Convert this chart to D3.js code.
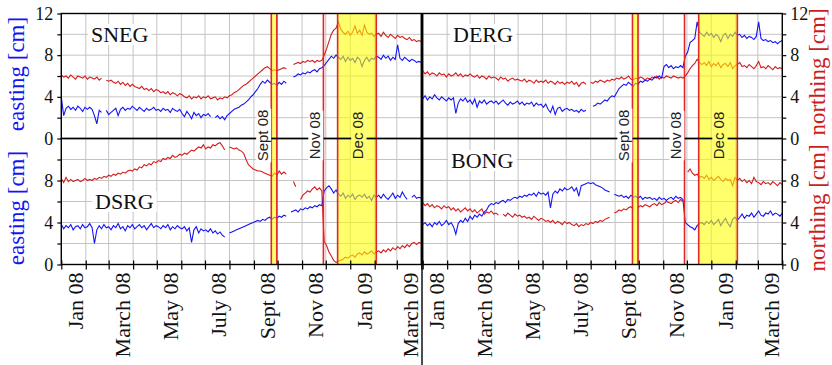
<!DOCTYPE html>
<html>
<head>
<meta charset="utf-8">
<script src="https://cdn.jsdelivr.net/npm/d3@7"></script>
<style>
  body { margin: 0; background: #fff; }
</style>
</head>
<body>
<div id="chart"></div>
<script>
// daily GPS solutions, sampled every 3 days from 1 Jan 2008
const startDate = new Date(2008, 0, 1);
const stepDays = 3;

const N_SNEG = [6.1, 5.9, 6.0, 5.8, 6.1, 5.9, 5.7, 6.0, 5.9, 5.8, 6.0, 5.7, 5.9,
  5.8, 5.7, 5.9, 5.6, 5.8, null, 5.6, 5.5,
  5.6, 5.4, 5.3, 5.5, 5.2, 5.4, 5.1, 5.3, 5.0, 5.2,
  5.0, 4.9, 4.8, 5.0, 4.7, 4.8, 4.6, 4.8, 4.5, 4.7,
  4.6, 4.4, 4.5, 4.3, 4.5, 4.2, 4.4, 4.3, 4.1, 4.3,
  4.2, 4.0, 3.9, 4.1, 3.8, 4.0, 3.9, 4.1, 3.8, 4.0,
  3.9, 4.1, 3.8, 3.9, 4.0, 3.7, 3.9, 3.8, 4.0, 3.9,
  4.1, 4.2, 4.4, 4.5, 4.7, 4.9, 5.1, 5.2, 5.4, 5.6, 5.8, 6.0, 6.2,
  6.4, 6.6, 6.8, 6.9, 6.7, 6.5, 6.6, 6.5, 6.6, 6.7, 6.8, 6.7,
  null, null, 7.1, 7.2, 7.3, 7.2, 7.4, 7.3, 7.5, 7.4, 7.5, 7.3, 7.5, 7.4, 7.5,
  8.0, 8.6, 9.3, 10.0, 10.4, 10.6, 11.2,
  10.5, 10.2, 10.0, 10.3, 9.9, 10.2, 10.8, 10.1, 10.4, 9.9, 10.9, 10.2, 10.0, 10.1, 9.8, 10.0,
  10.1, 9.8, 10.2, 9.9, 9.7, 10.0, 9.8, 9.6, 9.9, 9.7, 9.8, 9.6, 9.5, 9.7, 9.4, 9.5, 9.3, 9.4, 9.3];

const E_SNEG = [4.0, 2.2, 2.9, 3.1, 2.8, 3.0, 2.7, 3.1, 2.9, 2.6, 3.0, 2.8, 3.0,
  2.8, 2.2, 1.4, 2.7, 2.5, null, 2.7, 2.3,
  2.5, 2.7, 2.9, 2.2, 2.8, 3.0, 2.7, 2.9, 2.8, 3.1,
  2.9, 2.7, 3.0, 2.8, 2.6, 2.9, 2.7, 2.8, 3.0, 2.7,
  2.8, 2.6, 2.9, 2.7, 2.8, 2.5, 2.9, 2.7, 2.6, 2.8,
  2.4, 2.1, 2.6, 2.3, 1.9, 2.5, 2.2, 2.4, 2.0, 2.3,
  2.2, 2.4, 2.1, null, 2.0, 2.2, 1.9, 2.1, 1.8, 2.2,
  2.4, 2.6, 2.8, 2.9, 3.0, 3.2, 3.3, 3.5, 3.7, 4.0, 4.2, 4.5, 4.8,
  5.2, 5.5, 5.3, 5.6, 5.4, 5.2, 5.3, 5.1, 5.4, 5.2, 5.5, 5.3,
  null, null, 5.9, 6.0, 6.2, 6.1, 6.3, 6.2, 6.4, 6.3, 6.5, 6.6, 6.4, 6.7, 6.8,
  7.0, 7.3, 7.6, 7.9, 7.7, 8.0, 7.8,
  7.6, 7.9, 7.4, 7.8, 7.5, 7.7, 7.3, 7.8, 7.6, 6.9, 7.5, 7.8, 7.4, 7.7, 7.6, 7.9,
  7.8, 7.6, 8.0, 7.7, 7.9, 7.5, 7.8, 7.6, 9.0, 7.7, 7.5, 7.8, 7.6, 7.4, 7.6, 7.5, 7.3, 7.4, 7.3];

const N_DERG = [6.5, 6.2, 6.4, 6.1, 6.3, 6.2, 6.0, 6.3, 6.1, 6.2, 5.9, 6.2, 6.0,
  6.1, 6.3, 6.0, 6.2, 5.9, 6.1, 6.0, 6.2,
  6.0, 5.9, 6.1, 5.8, 6.0, 5.9, 5.7, 6.0, 5.8, 5.9,
  5.8, 5.6, 5.9, 5.7, 5.8, 5.5, 5.7, 5.8, 5.6, 5.7,
  5.6, 5.5, 5.7, 5.4, 5.6, 5.5, 5.3, 5.6, 5.4, 5.5,
  5.4, 5.6, 5.3, 5.5, 5.4, 5.2, 5.5, 5.3, 5.4, 5.2,
  5.4, 5.3, 5.5, 5.2, 5.4, 5.0, 5.3, 5.4, 5.2, null,
  5.4, 5.3, 5.5, 5.4, 5.6, 5.5, 5.4, 5.6, 5.5, 5.7, 5.6, 5.8, 5.7,
  5.9, 5.7, 5.8, 6.0, 5.7, 5.6, 5.8, 5.7, 5.9, 5.8, 5.6, 5.8,
  5.7, 5.9, 5.8, 6.0, 5.7, 5.9, 5.8, 6.0, 5.9, 5.8, 6.0, 5.9, 5.8, 5.9, 5.8,
  6.0, 6.3, 6.7, 7.0, 7.2, 7.6, 7.3,
  7.1, 7.3, 7.0, 7.4, 6.9, 7.2, 7.0, 7.3, 6.8, 7.1, 7.2, 6.9, 7.3, 6.7, 7.0, 7.1,
  7.3, 6.9, 7.0, 6.8, 7.1, 6.9, 6.7, 7.0, 7.4, 6.8, 6.9, 6.7, 7.0, 6.8, 6.6, 6.9, 6.7, 6.8, 6.7];

const E_DERG = [3.8, 4.1, 3.7, 4.0, 3.8, 4.2, 3.9, 3.7, 4.0, 3.8, 3.6, 3.9, 3.7,
  3.9, 2.4, 3.4, 3.8, 3.6, 3.9, 3.5, 3.7,
  3.3, 3.8, 3.0, 3.6, 3.4, 3.7, 3.3, 3.5, 3.6, 3.4,
  3.6, 3.3, 3.5, 3.7, 3.4, 3.2, 3.5, 3.3, 3.4, 3.6,
  3.3, 3.5, 3.2, 3.4, 3.3, 3.5, 3.1, 3.4, 3.2, 3.3,
  3.0, 3.3, 2.8, 2.5, 3.1, 2.3, 2.9, 3.0, 2.6, 2.8,
  2.9, 2.7, 2.8, 2.6, 2.7, 2.5, 2.8, 2.6, 2.7, null,
  null, 3.1, 3.2, 3.4, 3.3, 3.5, 3.7, 3.6, 3.9, 4.1, 4.0, 4.4, 4.8,
  5.0, 5.2, 5.1, 5.4, 5.2, 5.0, 5.3, 5.2, 5.5, 5.4, 5.6, 5.5,
  5.7, 5.6, 5.9, 5.8, 6.0, 5.8, 6.9, 7.1, 6.8, 7.0, 6.7, 6.9, 6.8, 7.0, 6.8,
  7.9, 8.3, 9.2, 9.4, 9.6, 11.2, 10.2,
  10.0, 9.8, 10.2, 9.9, 10.1, 9.7, 10.0, 9.8, 9.3, 9.9, 10.1, 9.6, 10.0, 9.8, 10.2, 9.9,
  10.0, 9.7, 9.9, 9.6, 9.8, 9.7, 9.5, 9.8, 11.2, 9.6, 9.4, 9.5, 9.3, 9.4, 9.2, 9.3, 9.1, 9.3, 9.4];

const N_DSRG = [8.2, 7.8, 8.3, 7.9, 8.1, 7.9, 8.0, 8.1, 7.9, 8.0, 8.2, 8.0, 8.1,
  8.0, 8.2, 8.1, 8.3, 8.2, 8.4, 8.3, 8.5,
  8.4, 8.6, 8.5, 8.7, 8.6, 8.8, 8.7, 8.9, 9.0, 8.9,
  9.1, 9.0, 9.3, 9.2, 9.5, 9.4, 9.6, 9.5, 9.8, 9.7,
  9.9, 9.8, 10.1, 10.0, 10.2, 10.1, 10.4, 10.2, 10.3, 10.5,
  10.4, 10.6, 10.5, 10.7, 10.9, 10.8, 11.0, 11.2, 11.1, 11.4,
  11.0, 11.2, 11.1, 11.4, 11.3, 11.5, 11.6, 11.3, 10.9, null,
  11.2, 11.1, 11.0, 11.1, 10.9, 10.8, 10.6, 10.0, 9.5, 9.3, 9.1, 9.0, 8.9,
  8.9, 8.8, 8.7, 8.6, 8.5, 8.4, 8.7, 8.5, 8.9, 8.6, 8.8, 8.6,
  null, null, 7.9, 7.4, null, 6.2, 6.6, 6.8, 7.0, 6.9, 7.2, 7.4, 7.1, 7.3, 7.0,
  2.2, 1.8, 1.2, 0.8, 0.4, 0.2, 0.3,
  0.4, 0.5, 0.7, 0.6, 0.8, 0.9, 0.7, 1.0, 1.1, 0.9, 1.2, 1.0, 1.1, 1.3, 1.0, 1.2,
  1.3, 1.1, 1.4, 1.2, 1.5, 1.3, 1.6, 1.4, 1.7, 1.5, 1.8, 1.6, 1.9, 1.7, 2.0, 2.1, 1.9, 2.1, 2.0];

const E_DSRG = [3.8, 3.4, 3.7, 3.5, 3.8, 3.3, 3.6, 3.7, 3.4, 3.8, 3.5, 3.6, 3.9,
  3.5, 2.0, 3.3, 3.7, 3.4, 3.8, 3.5, 3.6,
  3.3, 3.7, 3.5, 3.9, 3.4, 3.6, 3.2, 3.7, 3.5, 3.8,
  3.4, 3.6, 3.8, 3.5, 3.7, 3.3, 3.6, 3.9, 3.5, 3.7,
  3.6, 3.4, 3.7, 3.5, 3.8, 3.3, 3.6, 3.4, 3.7, 3.5,
  3.4, 3.6, 3.2, 3.5, 2.1, 3.3, 3.6, 3.0, 3.4, 3.2,
  3.3, 3.1, 3.4, 3.0, 3.2, 2.9, 3.1, 2.8, 2.6, null,
  3.0, 3.1, 3.2, 3.3, 3.4, 3.5, 3.6, 3.7, 3.8, 3.9, 4.0, 4.1, 4.2,
  4.1, 4.3, 4.2, 4.4, 4.5, 4.3, 4.5, 4.4, 4.6, 4.5, 4.7, 4.6,
  null, 5.0, 5.1, 5.2, 5.0, 5.3, 5.2, 5.4, 5.3, 5.5, 5.4, 5.6, 5.5, 5.7, 5.6,
  7.0, 7.3, 7.5, 7.2, 6.8, 7.1, 6.7,
  6.5, 6.8, 6.3, 6.6, 6.4, 6.7, 6.2, 6.5, 6.6, 6.4, 6.7, 6.3, 6.5, 6.1, 6.6, 6.4,
  6.6, 6.3, 6.7, 6.4, 6.2, 6.5, 6.8, 6.3, 6.6, 6.4, 6.9, 6.5, 6.2, null, 6.4, 6.6, 6.3, 6.4, 6.3];

const N_BONG = [5.9, 5.6, 5.8, 5.5, 5.7, 5.4, 5.6, 5.5, 5.3, 5.6, 5.4, 5.5, 5.2,
  5.4, 5.1, 5.3, 5.0, 5.2, 5.4, 5.1, 5.3,
  5.0, 5.2, 4.9, 5.1, 5.3, 4.8, 5.0, 4.9, 5.1, 4.8,
  4.9, 4.7, null, 4.8, 4.6, 4.9, 4.7, 4.5, 4.8, 4.6,
  4.7, 4.5, 4.6, 4.4, 4.5, 4.3, 4.6, 4.4, 4.2, 4.4,
  4.3, 4.1, 4.2, 4.0, 4.2, 3.9, 4.1, 4.0, 3.8, 4.1,
  3.9, 4.0, 3.8, 3.7, 3.9, 3.6, 3.8, 3.7, 3.9, 3.8,
  4.0, 3.9, 4.1, 4.0, 4.2, 4.1, 4.3, 4.4, 4.5, null, 4.9, 5.0, 5.2,
  5.1, 5.3, 5.2, 5.4, 5.5, 5.3, null, 5.4, 5.6, 5.5, 5.7, 5.6,
  5.5, 5.7, 5.8, 5.6, 5.9, 5.7, 5.8, 6.0, 5.9, 5.8, 6.0, 6.1, 5.9, 6.2, 6.0,
  null, 8.8, 9.1, 8.7, 8.5, 8.6, 8.3,
  8.4, 8.2, 8.5, 8.1, 8.3, 8.0, 8.2, 8.4, 8.1, 7.9, 8.2, 8.0, 8.1, 7.5, 8.3, 8.0,
  8.2, 7.9, 8.1, 7.8, 8.0, 7.7, 8.3, 7.9, 7.8, 7.6, 7.9, 7.7, 7.8, 7.6, 7.9, 7.7, 7.5, 7.8, 7.6];

const E_BONG = [3.8, 4.0, 3.7, 3.9, 3.6, 4.0, 3.8, 4.1, 3.7, 3.9, 4.2, 3.8, 4.0,
  3.6, 2.9, 3.9, 4.2, 4.0, 4.4, 4.1, 4.6,
  4.3, 4.7, 4.5, 4.8, 4.6, 5.0, 5.2, 5.6, 5.8, 5.7,
  5.9, 5.8, 6.0, 6.1, 5.9, 6.2, 6.1, 6.3, 6.4, 6.3,
  6.5, 6.4, 6.6, 6.5, 6.7, 6.6, 6.8, 6.5, 6.9, 6.7,
  6.8, 6.6, 6.9, 5.4, 6.7, 7.0, 6.8, 7.2, 7.0, 7.3,
  7.1, 7.2, 7.4, 7.0, 7.3, 6.5, 7.5, 7.6, 7.7, 7.8,
  7.7, 7.8, 7.6, 7.5, 7.4, 7.3, 7.1, 7.0, 6.9, null, 6.7, 6.6, 6.5,
  6.6, 6.4, 6.5, 6.3, 6.6, 6.4, 6.5, 6.3, 6.5, 6.2, 6.4, 6.3,
  6.4, 6.2, 6.3, 6.1, 6.4, 6.2, 6.3, 6.1, 6.3, 6.4, 6.2, 6.5, 6.3, 6.4, 6.2,
  4.0, 3.8, 3.6, 3.5, 3.3, 3.7, 3.9,
  4.0, 3.8, 4.1, 3.9, 4.2, 3.8, 4.0, 4.3, 3.7, 4.1, 4.4, 3.9, 3.6, 4.3, 4.5, 4.2,
  4.5, 4.8, 4.4, 4.7, 4.6, 4.9, 4.5, 4.8, 5.1, 4.7, 4.6, 4.9, 4.8, 5.1, 4.7, 4.9, 4.8, 4.6, 4.9];

const monthLabels = ["Jan 08", "March 08", "May 08", "July 08", "Sept 08", "Nov 08", "Jan 09", "March 09"];
const yLabelsTop = [0, 4, 8, 12];
const yLabelsBottom = [0, 4, 8];

// events: Sept 08 & Dec 08 periods, Nov 08 single date
const events = [
  { label: "Sept 08", from: new Date(2008, 8, 23), to: new Date(2008, 8, 30) },
  { label: "Nov 08", from: new Date(2008, 10, 28), to: null },
  { label: "Dec 08", from: new Date(2008, 11, 16), to: new Date(2009, 1, 3) }
];

const W = 832, H = 365;
const blue = "#1414f5", red = "#d41c1c";
const serif = "'Liberation Serif', 'DejaVu Serif', serif";

const svg = d3.select("#chart").append("svg")
  .attr("width", W).attr("height", H)
  .style("background", "#fff");

const cols = [[61.3, 421.3], [422.7, 782.3]];
const rows = [[138.5, 13.5], [264.5, 138.5]];

const panels = [
  { name: "SNEG", col: 0, row: 0, east: E_SNEG, north: N_SNEG, nx: 91, ny: 42 },
  { name: "DERG", col: 1, row: 0, east: E_DERG, north: N_DERG, nx: 453, ny: 42 },
  { name: "DSRG", col: 0, row: 1, east: E_DSRG, north: N_DSRG, nx: 95, ny: 209 },
  { name: "BONG", col: 1, row: 1, east: E_BONG, north: N_BONG, nx: 451, ny: 168 }
];

const domainX = [startDate, new Date(2009, 3, 1)];
const xScales = cols.map(r => d3.scaleTime().domain(domainX).range(r));
const yScales = rows.map(r => d3.scaleLinear().domain([0, 12]).range(r));

const toSeries = arr => arr.map((v, i) => ({ date: d3.timeDay.offset(startDate, i * stepDays), v: v }));

const grid = svg.append("g");
const dataLayer = svg.append("g");
const bandLayer = svg.append("g");
const frameLayer = svg.append("g");
const labelLayer = svg.append("g");

panels.forEach((p, k) => {
  const x = xScales[p.col];
  const y = yScales[p.row];
  const [x0, x1] = x.range();
  const [yb, yt] = y.range();

  // grid
  grid.selectAll(null)
    .data(x.ticks(d3.timeMonth.every(1)))
    .enter().append("line")
    .attr("x1", d => x(d)).attr("x2", d => x(d))
    .attr("y1", yt).attr("y2", yb)
    .attr("stroke", "#c4c4c4").attr("stroke-width", 1);
  grid.selectAll(null)
    .data(d3.range(2, 12, 2))
    .enter().append("line")
    .attr("x1", x0).attr("x2", x1)
    .attr("y1", d => y(d)).attr("y2", d => y(d))
    .attr("stroke", "#c4c4c4").attr("stroke-width", 1);

  // series
  svg.append("clipPath").attr("id", "clip" + k)
    .append("rect").attr("x", x0).attr("y", yt).attr("width", x1 - x0).attr("height", yb - yt);

  const line = d3.line()
    .defined(d => d.v != null)
    .x(d => x(d.date))
    .y(d => y(d.v));

  const g = dataLayer.append("g").attr("clip-path", `url(#clip${k})`);
  g.append("path").datum(toSeries(p.north))
    .attr("fill", "none").attr("stroke", red).attr("stroke-width", 1.1)
    .attr("d", line);
  g.append("path").datum(toSeries(p.east))
    .attr("fill", "none").attr("stroke", blue).attr("stroke-width", 1.1)
    .attr("d", line);

  // event bands and lines
  events.forEach(ev => {
    if (ev.to) {
      bandLayer.append("rect")
        .attr("x", x(ev.from)).attr("y", yt)
        .attr("width", x(ev.to) - x(ev.from)).attr("height", yb - yt)
        .attr("fill", "#ffff00").attr("fill-opacity", 0.58);
    }
    [ev.from, ev.to].filter(d => d).forEach(d => {
      bandLayer.append("line")
        .attr("x1", x(d)).attr("x2", x(d)).attr("y1", yt).attr("y2", yb)
        .attr("stroke", "#e3262a").attr("stroke-width", 1.6);
    });
  });

  // frame
  frameLayer.append("rect")
    .attr("x", x0).attr("y", yt).attr("width", x1 - x0).attr("height", yb - yt)
    .attr("fill", "none").attr("stroke", "#000").attr("stroke-width", 1.4);

  // station name
  const t = labelLayer.append("text")
    .attr("x", p.nx).attr("y", p.ny)
    .style("font-family", serif).style("font-size", "22px")
    .attr("fill", "#111")
    .text(p.name);
  const bb = t.node().getBBox();
  labelLayer.insert("rect", "text")
    .attr("x", bb.x - 3).attr("y", bb.y + 2).attr("width", bb.width + 6).attr("height", bb.height - 4)
    .attr("fill", "#fff");
});

// separator between columns, reaching the bottom of the page
frameLayer.append("line")
  .attr("x1", 422).attr("x2", 422).attr("y1", 13.5).attr("y2", H)
  .attr("stroke", "#000").attr("stroke-width", 1.4);

// event labels on the middle line
const midY = 135.5;
cols.forEach((c, ci) => {
  const x = xScales[ci];
  events.forEach(ev => {
    const cx = ev.to && ev.label === "Dec 08" ? (x(ev.from) + x(ev.to)) / 2 + 1 : x(ev.from) - 8.5;
    const g = labelLayer.append("g").attr("transform", `translate(${cx},${midY}) rotate(-90)`);
    const txt = g.append("text")
      .attr("text-anchor", "middle").attr("dy", "0.36em")
      .style("font-family", "'Liberation Sans', Arial, sans-serif").style("font-size", "15px")
      .attr("fill", "#222")
      .text(ev.label);
    const bb = txt.node().getBBox();
    g.insert("rect", "text")
      .attr("x", bb.x - 1).attr("y", bb.y + 2).attr("width", bb.width + 2).attr("height", bb.height - 2)
      .attr("fill", "#fff");
    if (ev.to && ev.label === "Dec 08") {
      g.insert("rect", "text")
        .attr("x", bb.x - 1).attr("y", bb.y + 2).attr("width", bb.width + 2).attr("height", bb.height - 2)
        .attr("fill", "#ffff00").attr("fill-opacity", 0.58);
    }
  });
});

// y axes
const tickFmt = allowed => d => allowed.includes(d) ? d : "";
[0, 1].forEach(ri => {
  const y = yScales[ri];
  const labs = ri === 0 ? yLabelsTop : yLabelsBottom;
  const ticks = ri === 0 ? d3.range(0, 13, 2) : d3.range(0, 12, 2);
  const left = svg.append("g").attr("transform", `translate(${cols[0][0]},0)`)
    .call(d3.axisLeft(y).tickValues(ticks).tickSize(4).tickPadding(4).tickFormat(tickFmt(labs)));
  const right = svg.append("g").attr("transform", `translate(${cols[1][1]},0)`)
    .call(d3.axisRight(y).tickValues(ticks).tickSize(4).tickPadding(4).tickFormat(tickFmt(labs)));
  [left, right].forEach(a => {
    a.select(".domain").remove();
    a.selectAll("line").attr("stroke", "#000").attr("stroke-width", 1.2);
    a.selectAll("text").style("font-family", serif).style("font-size", "18px").attr("fill", "#111");
  });
});

// x axes
cols.forEach((c, ci) => {
  const x = xScales[ci];
  const ax = svg.append("g").attr("transform", `translate(0,${rows[1][0]})`)
    .call(d3.axisBottom(x).ticks(d3.timeMonth.every(1)).tickSize(5).tickFormat(""));
  ax.select(".domain").remove();
  ax.selectAll("line").attr("y1", -4).attr("stroke", "#000").attr("stroke-width", 1.2);

  const starts = d3.timeMonth.every(2).range(startDate, new Date(2009, 3, 1));
  svg.append("g").selectAll("text")
    .data(starts)
    .enter().append("text")
    .attr("transform", (d, i) => {
      const mid = (x(d) + x(d3.timeMonth.offset(d, 1))) / 2 + 2;
      return `translate(${mid},${rows[1][0] + 8}) rotate(-90)`;
    })
    .attr("text-anchor", "end").attr("dy", "0.33em")
    .style("font-family", serif).style("font-size", "22px").attr("fill", "#111")
    .text((d, i) => monthLabels[i]);
});

// axis titles
const titles = [
  { text: "easting [cm]", x: 24, y: 74, color: blue },
  { text: "easting [cm]", x: 24, y: 208, color: blue },
  { text: "northing [cm]", x: 825, y: 72, color: "#cc1d1d" },
  { text: "northing [cm]", x: 825, y: 208, color: "#cc1d1d" }
];
svg.append("g").selectAll("text")
  .data(titles)
  .enter().append("text")
  .attr("transform", d => `translate(${d.x},${d.y}) rotate(-90)`)
  .attr("text-anchor", "middle")
  .style("font-family", serif).style("font-size", "23px")
  .attr("fill", d => d.color)
  .text(d => d.text);
</script>
</body>
</html>
